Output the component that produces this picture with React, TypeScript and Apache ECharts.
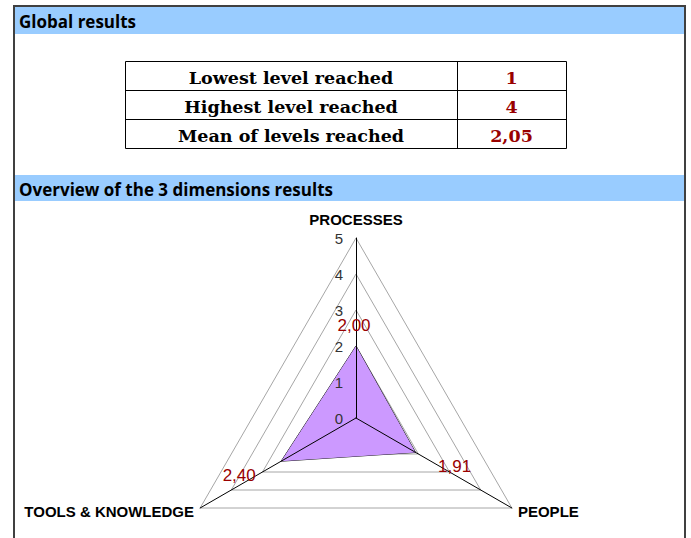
import React, { useEffect, useRef } from 'react';
import * as echarts from 'echarts';

// ---- data ----
const dimensions = ['PROCESSES', 'TOOLS & KNOWLEDGE', 'PEOPLE'];
const levels = [2.0, 2.4, 1.91];
const axisMin = 0;
const axisMax = 5;
const axisSplits = 5;
const tableLabels = ['Lowest level reached', 'Highest level reached', 'Mean of levels reached'];
const tableValues = ['1', '4', '2,05'];
const sectionTitles = ['Global results', 'Overview of the 3 dimensions results'];

const fmt = (v: number) => v.toFixed(2).replace('.', ',');

// label offsets (style) for each vertex label, same order as dimensions
const labelOffsets: [number, number][] = [
  [-2, -21],
  [-42, 14],
  [39, 14],
];

export default function App() {
  const ref = useRef<HTMLDivElement>(null);

  useEffect(() => {
    if (!ref.current) return;
    const chart = echarts.init(ref.current, undefined, { renderer: 'svg' });

    const RED = '#990000';
    const center = [356, 418];
    const radius = 180;

    const table = { x: 125, y: 61, w: 441, rowH: 29, col: 457 };
    const tableFont = 'bold 17.5px "DejaVu Serif"';
    const tableGraphics: any[] = [];
    tableGraphics.push({
      type: 'rect',
      shape: { x: table.x + 0.5, y: table.y + 0.5, width: table.w, height: table.rowH * tableLabels.length },
      style: { fill: '#fff', stroke: '#000', lineWidth: 1 },
    });
    for (let i = 1; i < tableLabels.length; i++) {
      const yy = table.y + table.rowH * i + 0.5;
      tableGraphics.push({
        type: 'line',
        shape: { x1: table.x, y1: yy, x2: table.x + table.w, y2: yy },
        style: { stroke: '#000', lineWidth: 1 },
      });
    }
    tableGraphics.push({
      type: 'line',
      shape: { x1: table.col + 0.5, y1: table.y, x2: table.col + 0.5, y2: table.y + table.rowH * tableLabels.length },
      style: { stroke: '#000', lineWidth: 1 },
    });
    tableLabels.forEach((lab, i) => {
      const cy = table.y + table.rowH * i + 16.5;
      tableGraphics.push({
        type: 'text',
        x: (table.x + table.col) / 2,
        y: cy,
        style: {
          text: lab,
          fill: '#000',
          font: tableFont,
          align: 'center',
          verticalAlign: 'middle',
        },
      });
      tableGraphics.push({
        type: 'text',
        x: (table.col + table.x + table.w) / 2,
        y: cy,
        style: {
          text: tableValues[i],
          fill: RED,
          font: tableFont,
          align: 'center',
          verticalAlign: 'middle',
        },
      });
    });

    const radarBase = {
      center,
      radius,
      startAngle: 90,
      shape: 'polygon',
      splitNumber: axisSplits,
    };

    const option: any = {
      animation: false,
      backgroundColor: '#fff',
      graphic: [
        {
          type: 'rect',
          shape: { x: 15, y: 7, width: 669, height: 27 },
          style: { fill: '#99ccff' },
          z: -10,
        },
        {
          type: 'rect',
          shape: { x: 15, y: 175, width: 669, height: 26 },
          style: { fill: '#99ccff' },
          z: -10,
        },
        {
          type: 'polyline',
          shape: { points: [[14, 540], [14, 6], [685, 6], [685, 540]] },
          style: { stroke: '#404040', lineWidth: 2, fill: null },
          z: -5,
        },
        {
          type: 'text',
          x: 19,
          y: 21,
          style: {
            text: sectionTitles[0],
            fill: '#000',
            font: 'bold 17px "Open Sans"',
            verticalAlign: 'middle',
          },
        },
        {
          type: 'text',
          x: 19,
          y: 189,
          style: {
            text: sectionTitles[1],
            fill: '#000',
            font: 'bold 17px "Open Sans"',
            verticalAlign: 'middle',
          },
        },
        ...tableGraphics,
      ],
      radar: [
        {
          ...radarBase,
          z: 0,
          indicator: dimensions.map((name) => ({ name, min: axisMin, max: axisMax })),
          axisName: { show: false },
          axisLine: { show: false },
          axisTick: { show: false },
          axisLabel: { show: false },
          splitArea: { show: false },
          splitLine: { lineStyle: { color: '#a6a6a6', width: 1 } },
        },
        {
          ...radarBase,
          z: 5,
          indicator: dimensions.map((name, i) => ({
            name,
            min: axisMin,
            max: axisMax,
            axisLabel: { show: i === 0 },
            nameTextStyle: i === 0 ? { padding: [0, 0, 4, 0] } : {},
          })),
          nameGap: 7,
          axisName: {
            color: '#000',
            fontFamily: 'Arial',
            fontWeight: 'bold',
            fontSize: 15,
          },
          axisLine: { lineStyle: { color: '#000', width: 1 } },
          axisTick: { show: false },
          axisLabel: {
            show: false,
            color: '#333',
            fontFamily: 'Arial',
            fontSize: 15,
            margin: 13,
          },
          splitArea: { show: false },
          splitLine: { show: false },
        },
      ],
      series: [
        {
          type: 'radar',
          radarIndex: 0,
          z: 2,
          symbol: 'none',
          silent: true,
          lineStyle: { color: '#111', width: 1 },
          areaStyle: { color: '#cc99ff', opacity: 1 },
          data: [{ value: levels, name: 'Levels' }],
        },
        ...levels.map((lv, k) => ({
          type: 'radar',
          radarIndex: 0,
          z: 6,
          symbol: 'circle',
          symbolSize: 1,
          silent: true,
          itemStyle: { color: 'transparent' },
          lineStyle: { opacity: 0, width: 0 },
          data: [
            {
              value: levels,
              label: {
                show: true,
                position: 'inside',
                offset: labelOffsets[k],
                color: RED,
                fontFamily: 'Arial',
                fontSize: 17,
                formatter: (p: any) => {
                  const v = Array.isArray(p.value) ? NaN : Number(p.value);
                  return Math.abs(v - lv) < 1e-9 ? fmt(lv) : '';
                },
              },
            },
          ],
        })),
      ],
    };

    chart.setOption(option);
    return () => chart.dispose();
  }, []);

  return (
    <div
      ref={ref}
      style={{ position: 'absolute', left: 0, top: 0, width: 691, height: 538, background: '#fff' }}
    />
  );
}
